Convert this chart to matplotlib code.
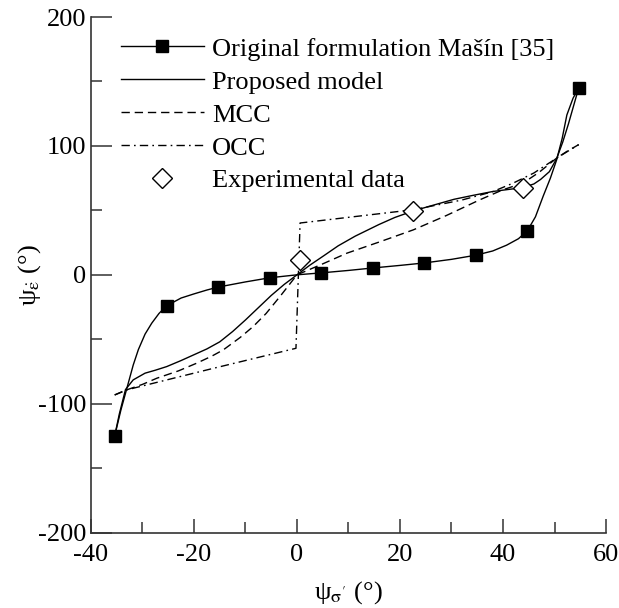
import numpy as np
import matplotlib.pyplot as plt
from matplotlib.ticker import MultipleLocator

plt.rcParams['font.family'] = ['Liberation Serif', 'DejaVu Serif']
plt.rcParams['mathtext.fontset'] = 'stix'
plt.rcParams['axes.unicode_minus'] = False

# Original formulation (Masin) - markers and line
masin_mx = [-35.4, -25.3, -15.3, -5.3, 4.7, 14.7, 24.7, 34.7, 44.7, 54.7]
masin_my = [-125, -24, -9.5, -2.3, 1.5, 5.3, 9.2, 15.2, 34, 145]
masin_lx = [-35.4, -34.2, -33.1, -31.8, -30.8, -29.5, -28.2, -26.8, -25.3, -22.5, -20, -17.5,
            -15.3, -10, -5.3, 0, 4.7, 10, 14.7, 20, 24.7, 30, 34.7, 38, 40.7, 43, 44.7,
            46.3, 47.8, 49.2, 50.4, 51.5, 52.4, 53.6, 54.7]
masin_ly = [-125, -105, -89, -70, -58, -46, -37.5, -30, -24, -18, -14.8, -11.8,
            -9.5, -5.5, -2.3, 0, 1.5, 3.4, 5.3, 7.3, 9.2, 12, 15.2, 18.5, 23, 28, 34,
            45, 61, 75, 89, 106, 124, 137, 145]

# Proposed model
prop_x = [-35.4, -34.5, -33.3, -31.8, -29.5, -27.5, -25.3, -22.5, -20, -17.5, -15, -12.5,
          -10, -7.5, -5, -2.5, 0, 2.5, 5.2, 8, 11.3, 15.9, 19, 22.6, 26, 30.5, 34, 38.1,
          41, 43.9, 46, 47.3, 49, 50.4, 51.6, 52.7, 53.7, 54.7]
prop_y = [-125, -108, -89, -81.5, -76.3, -74, -71.2, -66.5, -62, -57.5, -52, -44,
          -35, -25.5, -16, -7.5, 0, 7.5, 14.8, 22.5, 30, 39, 44.5, 49.6, 53.5, 58.6, 61.5, 64.7,
          66.2, 67.7, 70.5, 74, 80, 90, 103, 117, 131, 145]

# MCC
mcc_x = [-35.4, -33.1, -30, -27.2, -23, -19.5, -16.5, -14.3, -11, -8.5, -6, -3.3, 0,
         5, 9.7, 16, 22.6, 29, 35.5, 40, 43.9, 47, 50.4, 52.5, 54.7]
mcc_y = [-93.2, -89.3, -85, -80.2, -74.5, -68.6, -63, -58.2, -48.5, -40.1, -30, -16.8, 0,
         8.5, 16.8, 25.5, 34.9, 46, 58.2, 66, 71.2, 79.5, 90.5, 96, 101]

# OCC
occ_x = [-35.4, -33.1, -16.3, -0.2, 0.6, 22.6, 32, 38, 42, 46, 50.4, 54.7]
occ_y = [-93.2, -89.3, -72.6, -57, 40.2, 50.5, 58, 64.5, 71.2, 79, 90.5, 101]

# Experimental data
exp_x = [0.6, 22.6, 43.9]
exp_y = [11.2, 49.6, 67.1]

fig = plt.figure(figsize=(6.19, 6.08), dpi=100)
ax = fig.add_axes([0.147, 0.124, 0.832, 0.848])

lw = 1.0
ax.plot(masin_lx, masin_ly, color='black', lw=lw)
ax.plot(masin_mx, masin_my, 's', color='black', ms=9)
ax.plot(prop_x, prop_y, color='black', lw=lw)
ax.plot(mcc_x, mcc_y, color='black', lw=lw, dashes=(6, 3.5))
ax.plot(occ_x, occ_y, color='black', lw=lw, dashes=(6, 3, 1.2, 3))
ax.plot(exp_x, exp_y, 'D', mfc='white', mec='black', mew=1.0, ms=10)

# legend proxies
h1, = ax.plot([], [], color='black', lw=lw, marker='s', ms=9)
h2, = ax.plot([], [], color='black', lw=lw)
h3, = ax.plot([], [], color='black', lw=lw, dashes=(6, 3.5))
h4, = ax.plot([], [], color='black', lw=lw, dashes=(6, 3, 1.2, 3))
h5, = ax.plot([], [], 'D', mfc='white', mec='black', mew=1.0, ms=10)
ax.legend([h1, h2, h3, h4, h5],
          ['Original formulation Mašín [35]', 'Proposed model', 'MCC', 'OCC', 'Experimental data'],
          loc='upper left', bbox_to_anchor=(0.058, 0.961), frameon=False, fontsize=19,
          handlelength=3.15, handletextpad=0.3, labelspacing=0.36, borderpad=0,
          borderaxespad=0, numpoints=1)

ax.set_xlim(-40, 60)
ax.set_ylim(-200, 200)
ax.xaxis.set_major_locator(MultipleLocator(20))
ax.xaxis.set_minor_locator(MultipleLocator(10))
ax.yaxis.set_major_locator(MultipleLocator(100))
ax.yaxis.set_minor_locator(MultipleLocator(50))
for s in ['top', 'right']:
    ax.spines[s].set_visible(False)
for s in ['left', 'bottom']:
    ax.spines[s].set_linewidth(1.2)
    ax.spines[s].set_color('#333333')
ax.tick_params(axis='both', which='both', direction='in', labelsize=19, color='#333333', width=1.1)
ax.tick_params(axis='y', which='major', length=15)
ax.tick_params(axis='y', which='minor', length=8)
ax.tick_params(axis='x', which='major', length=10)
ax.tick_params(axis='x', which='minor', length=8)
ax.tick_params(axis='x', pad=8)

ax.set_xlabel("ψ$_{\\mathrm{σ'}}$ (°)", fontsize=19, labelpad=10)
ax.set_ylabel("ψ$_{\\dot{\\mathrm{ε}}}$ (°)", fontsize=19, labelpad=-4)

fig.savefig('out.png', dpi=100)
